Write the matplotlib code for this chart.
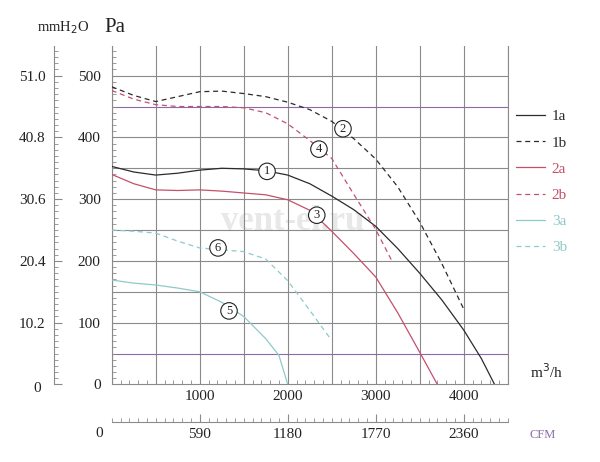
import matplotlib
matplotlib.use("Agg")
import matplotlib.pyplot as plt
from matplotlib.ticker import MultipleLocator

plt.rcParams['font.family'] = ['Liberation Serif', 'DejaVu Serif']

# кривые (м3/ч, Па)
x_1a = [0, 250, 500, 750, 1000, 1250, 1500, 1750, 2000, 2250, 2500, 2750, 3000, 3250, 3500, 3750, 4000, 4200, 4350]
y_1a = [353, 344, 339, 342, 347, 350, 349, 346, 339, 325, 305, 283, 256, 220, 180, 137, 88, 42, 0]

x_1b = [0, 250, 500, 750, 1000, 1250, 1500, 1750, 2000, 2250, 2500, 2750, 3000, 3250, 3500, 3750, 4000]
y_1b = [482, 468, 458, 466, 474, 475, 471, 466, 457, 445, 426, 398, 365, 320, 263, 196, 122]

x_2a = [0, 250, 500, 750, 1000, 1250, 1500, 1750, 2000, 2250, 2500, 2750, 3000, 3250, 3500, 3700]
y_2a = [340, 325, 315, 314, 315, 313, 310, 307, 299, 282, 248, 212, 174, 116, 52, 0]

x_2b = [0, 250, 500, 750, 1000, 1250, 1500, 1750, 2000, 2250, 2500, 2750, 3000, 3180]
y_2b = [476, 462, 453, 450, 450, 450, 448, 440, 422, 395, 366, 308, 251, 201]

x_3a = [0, 250, 500, 750, 1000, 1250, 1500, 1750, 1900, 2000]
y_3a = [169, 164, 161, 156, 150, 133, 110, 74, 47, 0]

x_3b = [0, 250, 500, 750, 1000, 1250, 1500, 1750, 2000, 2250, 2480]
y_3b = [250, 248, 245, 232, 221, 218, 215, 203, 168, 120, 75]

# номера кривых в кружках
mark_nums = ['1', '2', '3', '4', '5', '6']
mark_x = [1765, 2628, 2330, 2355, 1333, 1208]
mark_y = [345, 414, 274, 381, 119, 221]

pa_ticks = [0, 100, 200, 300, 400, 500]
mm_labels = ['', '10.2', '20.4', '30.6', '40.8', '51.0']
flow_ticks = [1000, 2000, 3000, 4000]
cfm_labels = ['590', '1180', '1770', '2360']

black = '#2b2b2b'
red = '#c4506c'
teal = '#8fcaca'
grid_c = '#8a8a8a'
purple = '#8a6aa8'
txt = '#222222'

fig = plt.figure(figsize=(6, 4.62), dpi=100)
ax = fig.add_axes([0.1862, 0.168, 0.66, 0.7324])
ax.set_xlim(0, 4500)
ax.set_ylim(0, 548)

# сетка
for v in range(0, 4501, 500):
    ax.axvline(v, color=grid_c, lw=0.8, zorder=1)
for h in range(50, 501, 50):
    c = purple if h in (50, 450) else grid_c
    ax.axhline(h, color=c, lw=0.8, zorder=1.2)

# водяной знак
ax.text(2060, 263, 'vent-el.ru', fontsize=25, fontweight='bold', color='#e8e8e8',
        ha='center', va='center', zorder=0.5)

ax.plot(x_1a, y_1a, color=black, lw=0.9, label='1a', zorder=3)
ax.plot(x_1b, y_1b, color=black, lw=0.9, ls=(0, (4, 3)), label='1b', zorder=3)
ax.plot(x_2a, y_2a, color=red, lw=0.9, label='2a', zorder=3)
ax.plot(x_2b, y_2b, color=red, lw=0.9, ls=(0, (4, 3)), label='2b', zorder=3)
ax.plot(x_3a, y_3a, color=teal, lw=0.9, label='3a', zorder=3)
ax.plot(x_3b, y_3b, color=teal, lw=0.9, ls=(0, (4, 3)), label='3b', zorder=3)

for n, mx, my in zip(mark_nums, mark_x, mark_y):
    ax.text(mx, my, n, fontsize=9, ha='center', va='center', color=txt, zorder=4,
            bbox=dict(boxstyle='circle,pad=0.18', fc='white', ec=txt, lw=0.8))

ax.spines['top'].set_visible(False)
for s in ['left', 'bottom', 'right']:
    ax.spines[s].set_color(grid_c)
    ax.spines[s].set_linewidth(0.8)

ax.set_yticks(pa_ticks)
ax.yaxis.set_minor_locator(MultipleLocator(10))
ax.set_xticks(flow_ticks)
ax.xaxis.set_minor_locator(MultipleLocator(100))
ax.tick_params(which='both', direction='in', color=grid_c, labelsize=11, labelcolor=txt)
ax.tick_params(which='major', length=0, pad=8)
ax.tick_params(which='minor', length=3)
ax.tick_params(axis='x', which='major', pad=4)

# ось мм вод. ст.
ax2 = ax.twinx()
ax2.set_ylim(ax.get_ylim())
ax2.spines['left'].set_position(('axes', -0.1457))
ax2.spines['left'].set_color(grid_c)
ax2.spines['left'].set_linewidth(0.8)
for s in ['top', 'right', 'bottom']:
    ax2.spines[s].set_visible(False)
ax2.yaxis.set_ticks_position('left')
ax2.set_yticks(pa_ticks)
ax2.set_yticklabels(mm_labels)
ax2.yaxis.set_minor_locator(MultipleLocator(10))
ax2.tick_params(which='both', direction='in', color=grid_c, labelsize=11, labelcolor=txt)
ax2.tick_params(which='major', length=6, pad=6)
ax2.tick_params(which='minor', length=3)

# ось CFM
ax3 = fig.add_axes([0.1862, 0.0866, 0.66, 0.0001])
ax3.set_xlim(0, 4500)
ax3.set_yticks([])
ax3.patch.set_visible(False)
for s in ['top', 'left', 'right']:
    ax3.spines[s].set_visible(False)
ax3.spines['bottom'].set_color(grid_c)
ax3.spines['bottom'].set_linewidth(0.8)
ax3.set_xticks(flow_ticks)
ax3.set_xticklabels(cfm_labels)
ax3.xaxis.set_minor_locator(MultipleLocator(100))
ax3.tick_params(which='both', direction='in', color=grid_c, labelsize=11, labelcolor=txt)
ax3.tick_params(which='major', length=6, pad=4)
ax3.tick_params(which='minor', length=3)

fig.text(0.062, 0.160, '0', fontsize=11, color=txt, ha='center', va='center')
fig.text(0.165, 0.062, '0', fontsize=11, color=txt, ha='center', va='center')
fig.text(0.105, 0.94, 'mmH$_2$O', fontsize=10.5, color=txt, ha='center', va='center')
fig.text(0.192, 0.94, 'Pa', fontsize=15, color=txt, ha='center', va='center')
fig.text(0.91, 0.195, 'm$^3$/h', fontsize=11, color=txt, ha='center', va='center')
fig.text(0.905, 0.058, 'CFM', fontsize=9, color=purple, ha='center', va='center')

ax.legend(loc='upper left', bbox_to_anchor=(1.005, 0.83), frameon=False, fontsize=11,
          labelcolor='linecolor', handlelength=1.9, handletextpad=0.45,
          labelspacing=0.82, borderaxespad=0)

fig.savefig('out.png', dpi=100)
